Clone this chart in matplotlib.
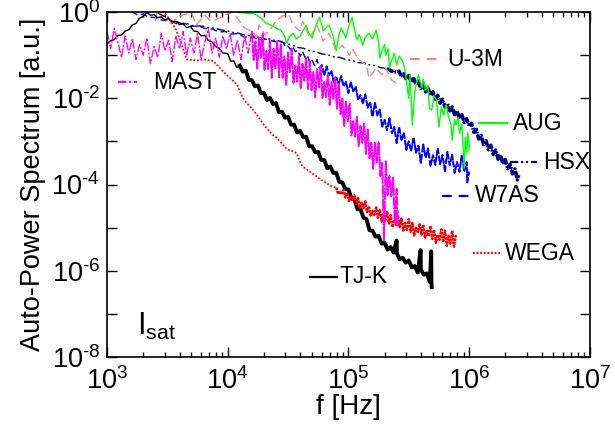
import numpy as np
import matplotlib
matplotlib.use("Agg")
import matplotlib.pyplot as plt
from matplotlib.ticker import FixedLocator, FuncFormatter, LogLocator, NullLocator

plt.rcParams['font.family'] = ['Liberation Sans', 'DejaVu Sans']
plt.rcParams['mathtext.fontset'] = 'custom'
plt.rcParams['mathtext.rm'] = 'Liberation Sans'
plt.rcParams['mathtext.it'] = 'Liberation Sans:italic'
plt.rcParams['lines.scale_dashes'] = False

# spectra stored as decades: log10(f / Hz) and log10(power / a.u.)
tjk_lf = [3.00, 3.03, 3.06, 3.09, 3.12, 3.15, 3.18, 3.21, 3.24, 3.27, 3.30, 3.33, 3.36, 3.39, 3.42, 3.45, 3.48,
          3.51, 3.54, 3.57, 3.60, 3.63, 3.66, 3.69, 3.72, 3.75, 3.78, 3.81, 3.84, 3.87, 3.90, 3.93, 3.96,
          4.000, 4.025, 4.050, 4.075, 4.100, 4.125, 4.150, 4.175, 4.200, 4.225, 4.250, 4.275, 4.300, 4.325,
          4.350, 4.375, 4.400, 4.425, 4.450, 4.475, 4.500, 4.525, 4.550, 4.575, 4.600, 4.625, 4.650, 4.675,
          4.700, 4.725, 4.750, 4.775, 4.800, 4.825, 4.850, 4.875, 4.900, 4.925, 4.950, 4.975, 5.000, 5.025,
          5.050, 5.075, 5.100, 5.125, 5.150, 5.175, 5.200, 5.225, 5.250, 5.275, 5.300, 5.325, 5.350, 5.375,
          5.400, 5.402, 5.425, 5.450, 5.475, 5.500, 5.525, 5.550, 5.575, 5.598, 5.600, 5.625, 5.650, 5.675,
          5.686, 5.688, 5.690]
tjk_lp = [-0.74, -0.66, -0.64, -0.54, -0.53, -0.44, -0.41, -0.30, -0.26, -0.14, -0.10, -0.01, -0.07, -0.06,
          -0.13, -0.11, -0.18, -0.15, -0.23, -0.21, -0.29, -0.27, -0.36, -0.33, -0.44, -0.45, -0.55, -0.54,
          -0.66, -0.69, -0.80, -0.84, -0.95,
          -0.96, -1.14, -1.13, -1.29, -1.24, -1.38, -1.36, -1.57, -1.58, -1.72, -1.70, -1.88, -1.87, -2.04,
          -1.99, -2.13, -2.11, -2.32, -2.31, -2.45, -2.43, -2.61, -2.61, -2.79, -2.75, -2.90, -2.89, -3.11,
          -3.11, -3.25, -3.24, -3.43, -3.43, -3.62, -3.58, -3.73, -3.73, -3.94, -3.95, -4.11, -4.11, -4.32,
          -4.34, -4.57, -4.57, -4.77, -4.80, -5.06, -5.07, -5.21, -5.19, -5.37, -5.35, -5.51, -5.45, -5.58,
          -5.30, -5.60, -5.73, -5.70, -5.81, -5.76, -5.92, -5.89, -6.04, -5.52, -5.97, -6.09, -6.06, -6.26,
          -5.55, -6.30, -6.38]

mast_lf = [3.00, 3.03, 3.06, 3.09, 3.12, 3.15, 3.18, 3.21, 3.24, 3.27, 3.30, 3.33, 3.36, 3.39, 3.42, 3.45,
           3.48, 3.51, 3.54, 3.57, 3.60, 3.63, 3.66, 3.69, 3.72, 3.75, 3.78, 3.81, 3.84, 3.87, 3.90, 3.93,
           3.96, 3.99, 4.02, 4.05, 4.08, 4.11, 4.14, 4.17,
           4.200, 4.215, 4.230, 4.245, 4.260, 4.275, 4.290, 4.305, 4.320, 4.335, 4.350, 4.365, 4.380, 4.395,
           4.410, 4.425, 4.440, 4.455, 4.470, 4.485, 4.500, 4.515, 4.530, 4.545, 4.560, 4.575, 4.590, 4.605,
           4.620, 4.635, 4.650, 4.665, 4.680, 4.695, 4.710, 4.725, 4.740, 4.755, 4.770, 4.785, 4.800, 4.815,
           4.830, 4.845, 4.860, 4.875, 4.890, 4.905, 4.920, 4.935, 4.950, 4.965, 4.980, 4.995, 5.010, 5.025,
           5.040, 5.055, 5.070, 5.085, 5.100, 5.115, 5.130, 5.145, 5.160, 5.175, 5.190, 5.205, 5.220, 5.235,
           5.250, 5.265, 5.280, 5.295, 5.310, 5.325, 5.340, 5.355, 5.370, 5.385, 5.400, 5.405, 5.410]
mast_lp = [-0.45, -0.85, -0.38, -0.70, -1.05, -0.55, -0.95, -0.62, -1.10, -0.75, -1.00, -0.60, -1.20, -0.80,
           -1.05, -0.50, -0.90, -0.65, -1.15, -0.55, -0.85, -0.45, -1.00, -0.60, -0.95, -0.50, -1.10, -0.70,
           -0.40, -0.95, -0.60, -1.05, -0.55, -0.85, -0.50, -1.00, -0.65, -1.10, -0.55, -0.95,
           -0.44, -1.11, -0.68, -1.31, -0.59, -1.06, -0.49, -1.35, -0.90, -1.32, -0.65, -1.52, -0.85, -1.31,
           -0.67, -1.51, -0.75, -1.52, -1.03, -1.69, -0.94, -1.40, -0.85, -1.66, -1.24, -1.61, -1.03, -1.76,
           -1.20, -1.59, -1.07, -1.78, -1.14, -1.81, -1.39, -1.98, -1.32, -1.75, -1.25, -1.99, -1.62, -1.97,
           -1.44, -2.15, -1.62, -2.01, -1.50, -2.24, -1.66, -2.37, -2.01, -2.64, -2.07, -2.53, -2.12, -2.86,
           -2.53, -2.89, -2.42, -3.11, -2.64, -3.03, -2.58, -3.29, -2.72, -3.39, -3.03, -3.63, -3.03, -3.48,
           -3.01, -3.80, -3.50, -5.30, -3.46, -4.24, -3.78, -4.27, -3.84, -4.90, -4.10, -4.95, -4.60]

wega_lf = [3.46, 3.50, 3.54, 3.57, 3.60, 3.63, 3.66, 3.70, 3.75, 3.80, 3.85, 3.88, 3.92, 3.96, 4.00, 4.04,
           4.08, 4.11, 4.14, 4.18, 4.22, 4.26, 4.29, 4.33, 4.37, 4.40, 4.44, 4.49, 4.53, 4.57, 4.60, 4.62,
           4.66, 4.70, 4.74, 4.78, 4.82, 4.86,
           4.900, 4.915, 4.930, 4.945, 4.960, 4.975, 4.990, 5.005, 5.020, 5.035, 5.050, 5.065, 5.080, 5.095,
           5.110, 5.125, 5.140, 5.155, 5.170, 5.185, 5.200, 5.215, 5.230, 5.245, 5.260, 5.275, 5.290, 5.305,
           5.320, 5.335, 5.350, 5.365, 5.380, 5.395, 5.410, 5.425, 5.440, 5.455, 5.470, 5.485, 5.500, 5.515,
           5.530, 5.545, 5.560, 5.575, 5.590, 5.605, 5.620, 5.635, 5.650, 5.665, 5.680, 5.695, 5.710, 5.725,
           5.740, 5.755, 5.770, 5.785, 5.800, 5.815, 5.830, 5.845, 5.860, 5.875, 5.890]
wega_lp = [0.02, -0.10, -0.26, -0.40, -0.60, -0.85, -1.10, -1.11, -1.12, -1.10, -1.12, -1.13, -1.25, -1.37,
           -1.48, -1.58, -1.69, -1.90, -2.06, -2.17, -2.30, -2.46, -2.58, -2.72, -2.84, -2.90, -3.02, -3.18,
           -3.22, -3.27, -3.48, -3.58, -3.66, -3.74, -3.82, -3.90, -3.97, -4.04,
           -4.07, -4.22, -4.15, -4.23, -4.12, -4.30, -4.19, -4.38, -4.28, -4.36, -4.25, -4.45, -4.31, -4.54,
           -4.42, -4.55, -4.39, -4.64, -4.50, -4.73, -4.61, -4.70, -4.53, -4.77, -4.58, -4.86, -4.69, -4.84,
           -4.62, -4.90, -4.71, -4.99, -4.82, -4.93, -4.72, -4.99, -4.78, -5.07, -4.89, -5.05, -4.80, -5.10,
           -4.89, -5.18, -5.00, -5.10, -4.90, -5.16, -4.93, -5.24, -5.05, -5.20, -4.96, -5.26, -5.05, -5.35,
           -5.16, -5.28, -5.04, -5.34, -5.07, -5.42, -5.19, -5.37, -5.07, -5.44, -5.17]

w7as_lf = [3.20, 3.25, 3.30, 3.34, 3.40, 3.46, 3.52, 3.58, 3.64, 3.70, 3.76, 3.81, 3.87, 3.93, 3.98, 4.03,
           4.08, 4.14, 4.20, 4.26, 4.33, 4.38, 4.43,
           4.46, 4.48, 4.50, 4.52, 4.54, 4.56, 4.58, 4.60, 4.62, 4.64, 4.66, 4.68, 4.70, 4.72, 4.74, 4.76,
           4.78, 4.80, 4.82, 4.84, 4.86, 4.88, 4.90, 4.92, 4.94, 4.96, 4.98, 5.00, 5.02, 5.04, 5.06, 5.08,
           5.10, 5.12, 5.14, 5.16, 5.18, 5.20, 5.22, 5.24, 5.26, 5.28, 5.30, 5.32, 5.34, 5.36, 5.38, 5.40,
           5.42, 5.44, 5.46, 5.48, 5.50, 5.52, 5.54, 5.56, 5.58, 5.60, 5.62, 5.64, 5.66, 5.68, 5.70, 5.72,
           5.74, 5.76, 5.78, 5.80, 5.82, 5.84, 5.86, 5.88, 5.90, 5.92, 5.94, 5.96, 5.98, 5.985, 6.00]
w7as_lp = [0.02, -0.06, -0.05, -0.11, -0.13, -0.19, -0.20, -0.27, -0.26, -0.33, -0.32, -0.38, -0.39, -0.46,
           -0.45, -0.51, -0.50, -0.58, -0.57, -0.64, -0.63, -0.68, -0.69,
           -0.70, -0.82, -0.79, -0.87, -0.79, -0.92, -0.88, -1.03, -0.91, -1.05, -1.00, -1.19, -1.12, -1.24,
           -1.10, -1.30, -1.23, -1.46, -1.26, -1.46, -1.37, -1.63, -1.52, -1.67, -1.48, -1.72, -1.62, -1.88,
           -1.62, -1.84, -1.72, -2.03, -1.92, -2.12, -1.91, -2.22, -2.09, -2.43, -2.10, -2.40, -2.26, -2.66,
           -2.50, -2.74, -2.46, -2.81, -2.66, -3.04, -2.66, -2.98, -2.80, -3.20, -3.00, -3.22, -2.90, -3.26,
           -3.10, -3.50, -3.07, -3.38, -3.16, -3.57, -3.32, -3.54, -3.16, -3.53, -3.31, -3.70, -3.24, -3.55,
           -3.31, -3.73, -3.48, -3.70, -3.31, -3.68, -3.48, -3.95, -3.70]

hsx_lf = [3.42, 3.46, 3.50, 3.54, 3.58, 3.62, 3.66, 3.70, 3.75, 3.80, 3.85, 3.89, 3.94, 3.99, 4.04, 4.09,
          4.14, 4.19, 4.24, 4.29, 4.34, 4.39, 4.43, 4.48, 4.53, 4.58, 4.63, 4.68, 4.73, 4.78, 4.83, 4.88,
          4.93, 4.98, 5.03, 5.08, 5.13, 5.17, 5.22, 5.27, 5.32, 5.36, 5.40,
          5.42, 5.44, 5.46, 5.48, 5.50, 5.52, 5.54, 5.56, 5.58, 5.60, 5.62, 5.64, 5.66, 5.68, 5.70, 5.72,
          5.74, 5.76, 5.78, 5.80, 5.82, 5.84, 5.86, 5.88, 5.90, 5.92, 5.94, 5.96, 5.98, 6.00, 6.02, 6.04,
          6.06, 6.08, 6.10, 6.12, 6.14, 6.16, 6.18, 6.20, 6.22, 6.24, 6.26, 6.28, 6.30, 6.32, 6.34, 6.36,
          6.38, 6.40, 6.41]
hsx_lp = [-0.02, -0.08, -0.12, -0.21, -0.22, -0.27, -0.26, -0.31, -0.32, -0.33, -0.37, -0.37, -0.41, -0.43,
          -0.47, -0.49, -0.53, -0.55, -0.57, -0.61, -0.62, -0.66, -0.67, -0.73, -0.76, -0.82, -0.84, -0.90,
          -0.92, -0.97, -0.99, -1.04, -1.05, -1.10, -1.12, -1.17, -1.18, -1.22, -1.24, -1.29, -1.31, -1.37,
          -1.39,
          -1.37, -1.50, -1.43, -1.57, -1.47, -1.62, -1.54, -1.68, -1.60, -1.77, -1.68, -1.85, -1.77, -1.94,
          -1.85, -2.02, -1.93, -2.11, -2.02, -2.20, -2.12, -2.29, -2.20, -2.38, -2.29, -2.47, -2.38, -2.56,
          -2.47, -2.65, -2.58, -2.79, -2.72, -2.94, -2.86, -3.07, -2.98, -3.19, -3.09, -3.30, -3.20, -3.41,
          -3.31, -3.52, -3.42, -3.63, -3.53, -3.75, -3.64, -3.89, -3.78]

aug_lf = [4.06, 4.10, 4.14, 4.18, 4.21, 4.24, 4.28, 4.32, 4.36, 4.40, 4.44, 4.47, 4.49, 4.51, 4.54, 4.57,
          4.60, 4.62, 4.65, 4.67, 4.70, 4.72, 4.74, 4.76, 4.78, 4.79, 4.82, 4.84, 4.87, 4.90, 4.92, 4.94,
          4.96, 4.98, 5.00, 5.03, 5.05, 5.07, 5.09, 5.12, 5.14, 5.17, 5.20, 5.23, 5.25, 5.26, 5.28, 5.30,
          5.31, 5.33, 5.34, 5.36, 5.38, 5.40, 5.42, 5.45, 5.47, 5.48, 5.50, 5.51, 5.53, 5.55, 5.56, 5.58,
          5.59, 5.61, 5.62, 5.64, 5.66, 5.67, 5.69, 5.71, 5.73, 5.75, 5.77, 5.79, 5.81, 5.83, 5.85, 5.86,
          5.88, 5.89, 5.91, 5.92, 5.94, 5.96, 5.97, 5.98, 5.99, 6.00, 6.00]
aug_lp = [0.02, -0.01, -0.02, -0.04, -0.02, -0.07, -0.15, -0.26, -0.30, -0.37, -0.42, -0.55, -0.72, -0.58,
          -0.49, -0.62, -0.56, -0.45, -0.30, -0.48, -0.60, -0.41, -0.25, -0.12, -0.30, -0.44, -0.35, -0.30,
          -0.53, -0.90, -0.55, -0.37, -0.48, -0.60, -0.35, -0.12, -0.40, -0.65, -0.52, -0.77, -0.58, -0.49,
          -0.62, -0.42, -0.70, -1.07, -0.88, -0.75, -1.00, -0.85, -1.30, -1.11, -0.95, -1.23, -1.02, -1.14,
          -1.35, -1.60, -2.00, -1.45, -2.62, -1.85, -1.69, -1.45, -1.58, -1.76, -1.55, -1.81, -1.70, -2.23,
          -2.27, -1.95, -2.04, -2.67, -2.20, -2.39, -2.15, -2.44, -2.60, -2.97, -2.50, -2.62, -2.45, -2.81,
          -2.60, -3.62, -2.90, -3.27, -2.80, -3.04, -3.20]

u3m_lf = [3.40, 3.41, 3.52, 3.62, 3.70, 3.74, 3.81, 3.85, 3.89, 3.98, 4.04, 4.08, 4.14, 4.20, 4.24, 4.26,
          4.31, 4.36, 4.40, 4.45, 4.51, 4.54, 4.60, 4.62, 4.68, 4.74, 4.79, 4.84, 4.90, 4.95, 5.01, 5.03,
          5.09, 5.15, 5.17, 5.23, 5.28, 5.31, 5.36, 5.42]
u3m_lp = [-0.21, -0.02, -0.26, -0.07, -0.02, -0.30, -0.07, -0.19, -0.19, -0.07, 0.00, -0.14, -0.37, -0.44,
          -0.58, -0.30, -0.53, -0.37, -0.21, -0.09, -0.07, -0.30, -0.44, -0.21, -0.60, -0.30, -0.67, -0.49,
          -0.90, -0.77, -1.00, -0.84, -1.11, -1.23, -1.53, -1.30, -1.46, -1.30, -1.58, -1.69]

c_magenta = '#ff00ff'
c_red = '#ff0000'
c_blue = '#0000ff'
c_navy = '#000080'
c_green = '#00ff00'
c_salmon = '#ff8080'

dash_hsx = (6, 2, 1.5, 2, 1.5, 2)
dash_mast = (6, 1.2, 1.5, 1.2)

fig = plt.figure(figsize=(6.15, 4.33), dpi=100)
ax = fig.add_axes([0.174, 0.1755, 0.785, 0.7965])


def p(lf, lp, start=None):
    lf = np.array(lf)
    lp = np.array(lp)
    if start is not None:
        keep = lf >= start
        lf, lp = lf[keep], lp[keep]
    return 10 ** lf, 10 ** lp


# noisy high-frequency tails are drawn again with a heavier pen
ax.plot(*p(hsx_lf, hsx_lp), color=c_navy, lw=1.0, dashes=dash_hsx)
ax.plot(*p(hsx_lf, hsx_lp, 5.32), color=c_navy, lw=2.6, dashes=(5, 1, 1, 1))
ax.plot(*p(w7as_lf, w7as_lp), color=c_blue, lw=1.0, dashes=(5, 2.5))
ax.plot(*p(w7as_lf, w7as_lp, 4.76), color=c_blue, lw=1.4, dashes=(4, 1.2))
ax.plot(*p(u3m_lf, u3m_lp), color=c_salmon, lw=1.0, dashes=(6, 3))
ax.plot(*p(aug_lf, aug_lp), color=c_green, lw=1.0)
ax.plot(*p(tjk_lf, tjk_lp), color='black', lw=1.0)
ax.plot(*p(tjk_lf, tjk_lp, 4.08), color='black', lw=2.8)
ax.plot(*p(wega_lf, wega_lp), color=c_red, lw=1.3, dashes=(1.3, 1.3))
ax.plot(*p(wega_lf, wega_lp, 4.90), color=c_red, lw=1.8, dashes=(1.6, 1.0))
ax.plot(*p(mast_lf, mast_lp), color=c_magenta, lw=1.0, dashes=dash_mast)
ax.plot(*p(mast_lf, mast_lp, 4.20), color=c_magenta, lw=1.4, dashes=dash_mast)

ax.set_xscale('log')
ax.set_yscale('log')
ax.set_xlim(1e3, 1e7)
ax.set_ylim(1e-8, 1e0)

ax.xaxis.set_major_locator(FixedLocator([1e3, 1e4, 1e5, 1e6, 1e7]))
ax.xaxis.set_minor_locator(LogLocator(base=10, subs=np.arange(2, 10), numticks=20))
ax.xaxis.set_major_formatter(FuncFormatter(lambda v, pos: r'$\mathdefault{10^{%d}}$' % round(np.log10(v))))

ax.yaxis.set_major_locator(FixedLocator([10.0 ** k for k in range(-8, 1)]))
ax.yaxis.set_minor_locator(NullLocator())


def ylab(v, pos):
    k = round(np.log10(v))
    if k % 2:
        return ''
    if k < 0:
        return r'$\mathdefault{10^{\text{-}%d}}$' % -k
    return r'$\mathdefault{10^{%d}}$' % k


ax.yaxis.set_major_formatter(FuncFormatter(ylab))

ax.tick_params(which='both', direction='in', top=True, right=True, width=1.0)
ax.tick_params(which='major', length=7, labelsize=19.5)
ax.tick_params(axis='x', which='major', pad=7.5)
ax.tick_params(axis='y', which='major', pad=5)
ax.tick_params(which='minor', length=3.5)
for s in ax.spines.values():
    s.set_linewidth(1.2)

ax.set_xlabel('f [Hz]', fontsize=20, labelpad=-1)
ax.set_ylabel('Auto-Power Spectrum [a.u.]', fontsize=19.5, labelpad=4)

# labels drawn next to short line samples
labels = [
    ('MAST', c_magenta, dict(dashes=(6, 2, 1.5, 2)), 0.023, 0.062, 0.797, 0.095),
    ('U-3M', c_salmon, dict(dashes=(7, 5)), 0.627, 0.685, 0.864, 0.704),
    ('AUG', c_green, dict(), 0.770, 0.828, 0.678, 0.841),
    ('HSX', c_navy, dict(dashes=dash_hsx), 0.834, 0.890, 0.565, 0.903),
    ('W7AS', c_blue, dict(dashes=(7, 5)), 0.694, 0.756, 0.467, 0.762),
    ('WEGA', c_red, dict(dashes=(1.3, 1.3)), 0.758, 0.814, 0.301, 0.824),
    ('TJ-K', 'black', dict(), 0.420, 0.476, 0.232, 0.482),
]
for name, col, style, x0, x1, yy, xt in labels:
    ax.plot([x0, x1], [yy, yy], color=col, lw=1.6, transform=ax.transAxes, clip_on=False, **style)
    ax.text(xt, yy, name, transform=ax.transAxes, fontsize=16.5, va='center', ha='left')

ax.text(0.062, 0.064, r'$\mathrm{I}_{\mathrm{sat}}$', transform=ax.transAxes, fontsize=22,
        va='baseline', ha='left')

fig.savefig('out.png', dpi=100)
